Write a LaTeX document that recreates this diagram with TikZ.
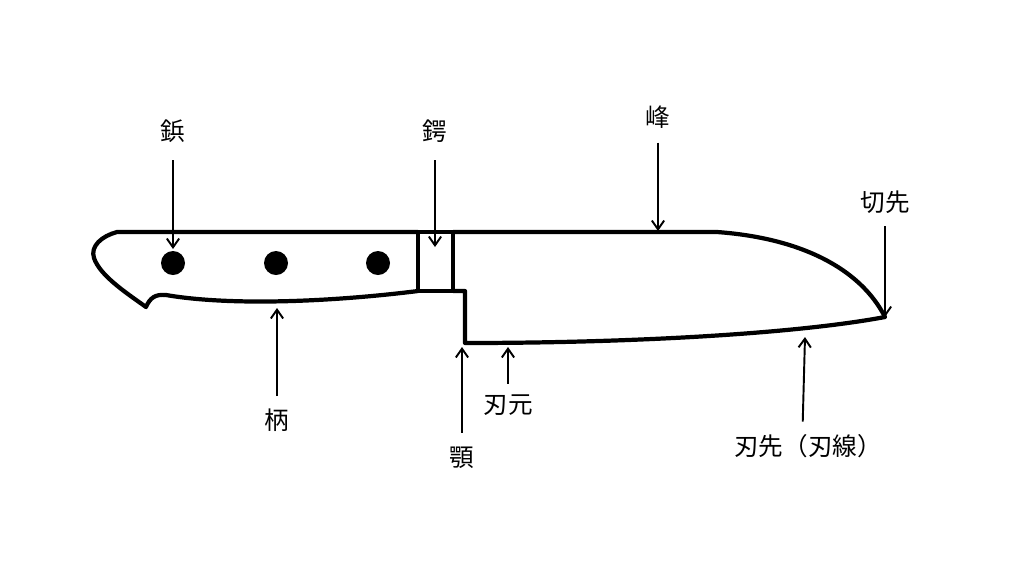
\documentclass[tikz,border=0pt]{standalone}
\usepackage{fontspec}
\setmainfont{Noto Sans CJK JP}
\usepackage{tikz}
\usetikzlibrary{arrows.meta}
\tikzstyle{label_normal} = [inner sep=2pt, font=\fontsize{14}{16}\selectfont]
\tikzstyle{edge_arrow} = [line width=1.1pt, -{Straight Barb[length=5pt,width=7pt]}]
\tikzstyle{outline_normal} = [line width=2.4pt, line join=round]

\begin{document}
\begin{tikzpicture}[x=0.02cm, y=-0.02cm]
\useasboundingbox (0,0) rectangle (1024,576);
% handle
\draw[outline_normal] (418,232) -- (117,232) .. controls (102,236) and (90,246) .. (94,258)
  .. controls (100,276) and (128,294) .. (146,307)
  .. controls (150,298) and (155,294) .. (166,295)
  .. controls (230,306) and (330,302) .. (418,291);
% bolster
\draw[outline_normal] (418,232) rectangle (453,291);
% blade
\draw[outline_normal] (453,232) -- (717,232) .. controls (800,238) and (860,268) .. (885,317)
  .. controls (800,333) and (640,343) .. (465,343) -- (465,291) -- (453,291);
% rivets
\foreach \x in {173,276,378}
  \fill (\x,263) circle (12);
% labels
\node (rivet) at (173,131) [label_normal] {鋲};
\node (bolster) at (435,131) [label_normal] {鍔};
\node (spine) at (658,117) [label_normal] {峰};
\node (point) at (885,202) [label_normal] {切先};
\node (handle) at (277,420) [label_normal] {柄};
\node (heel) at (462,458) [label_normal] {顎};
\node (root) at (508,405) [label_normal] {刃元};
\node (edge) at (808,446) [label_normal] {刃先（刃線）};
% targets
\coordinate (rivet_t) at (173,249);
\coordinate (bolster_t) at (435,247);
\coordinate (spine_t) at (658,231);
\coordinate (point_t) at (885,317);
\coordinate (handle_t) at (277,308);
\coordinate (heel_t) at (462,347);
\coordinate (root_t) at (508,347);
\coordinate (edge_t) at (805,337);
\draw[edge_arrow] ([yshift=-8pt]rivet.south) -- (rivet_t);
\draw[edge_arrow] ([yshift=-8pt]bolster.south) -- (bolster_t);
\draw[edge_arrow] ([yshift=-6pt]spine.south) -- (spine_t);
\draw[edge_arrow] ([yshift=-5pt]point.south) -- (point_t);
\draw[edge_arrow] ([yshift=5pt]handle.north) -- (handle_t);
\draw[edge_arrow] ([yshift=6pt]heel.north) -- (heel_t);
\draw[edge_arrow] ([yshift=4pt,xshift=0pt]root.north) -- (root_t);
\draw[edge_arrow] ([yshift=5pt,xshift=-3pt]edge.north) -- (edge_t);
\end{tikzpicture}
\end{document}
